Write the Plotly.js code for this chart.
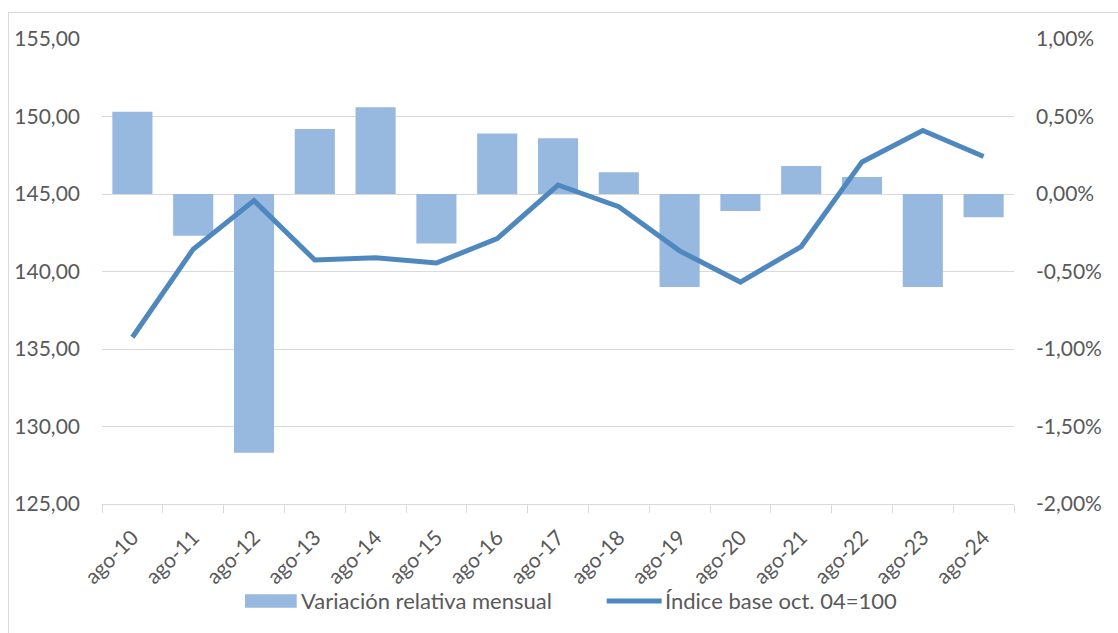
<!DOCTYPE html>
<html>
<head>
<meta charset="utf-8">
<script src="https://cdn.plot.ly/plotly-3.0.1.min.js"></script>
<style>
  html, body { margin: 0; padding: 0; width: 1118px; height: 633px; overflow: hidden; background: #fff; }
  #chart { position: absolute; left: 0; top: 0; width: 1118px; height: 633px; }
  #frame { position: absolute; left: 8px; top: 12px; width: 1200px; height: 700px; border: 1px solid #d9d9d9; pointer-events: none; }
</style>
</head>
<body>
<div id="chart"></div>
<div id="frame"></div>
<script>
const categories = ['ago-10','ago-11','ago-12','ago-13','ago-14','ago-15','ago-16','ago-17','ago-18','ago-19','ago-20','ago-21','ago-22','ago-23','ago-24'];
// Monthly relative variation, in percent
const variacion = [0.53, -0.27, -1.67, 0.42, 0.56, -0.32, 0.39, 0.36, 0.14, -0.60, -0.11, 0.18, 0.11, -0.60, -0.15];
// Index base oct. 04 = 100
const indice = [135.76, 141.44, 144.57, 140.74, 140.89, 140.55, 142.12, 145.58, 144.18, 141.33, 139.32, 141.61, 147.07, 149.10, 147.42];

const seriesNames = ['Variación relativa mensual', 'Índice base oct. 04=100'];
const leftTickVals = [125, 130, 135, 140, 145, 150, 155];
const leftTickText = ['125,00', '130,00', '135,00', '140,00', '145,00', '150,00', '155,00'];
const rightTickVals = [-2, -1.5, -1, -0.5, 0, 0.5, 1];
const rightTickText = ['-2,00%', '-1,50%', '-1,00%', '-0,50%', '0,00%', '0,50%', '1,00%'];

const FONT = 'Lato, "Open Sans", "Noto Sans", sans-serif';
const TXT = '#595959';
const BAR = '#98b9df';
const LINE = '#4f88bf';

const traces = [
  {
    type: 'bar', name: seriesNames[0],
    x: categories, y: variacion, yaxis: 'y',
    marker: { color: BAR }
  },
  {
    type: 'scatter', mode: 'lines', name: seriesNames[1],
    x: categories, y: indice, yaxis: 'y2',
    line: { color: LINE, width: 5 }
  }
];

// Legend drawn in paper coordinates below the plot
const legY = -0.2086;
const layout = {
  width: 1118, height: 633,
  margin: { l: 102, r: 104, t: 39, b: 129 },
  paper_bgcolor: '#fff', plot_bgcolor: '#fff',
  font: { family: FONT, size: 20, color: TXT },
  bargap: 0.34,
  showlegend: false,
  xaxis: {
    type: 'category', tickangle: -45,
    showline: true, linecolor: '#d9d9d9', linewidth: 1,
    ticks: 'outside', tickson: 'boundaries', ticklen: 8, tickcolor: '#d9d9d9',
    showgrid: false, zeroline: false,
    ticklabelstandoff: 12,
    tickfont: { family: FONT, size: 21, color: TXT }
  },
  yaxis: {
    side: 'right', range: [-2, 1],
    tickvals: rightTickVals, ticktext: rightTickText,
    showgrid: true, gridcolor: '#d9d9d9', gridwidth: 1,
    zeroline: false, showline: false, ticks: '',
    ticklabelstandoff: 21,
    tickfont: { family: FONT, size: 21, color: TXT }
  },
  yaxis2: {
    overlaying: 'y', side: 'left', range: [125, 155],
    tickvals: leftTickVals, ticktext: leftTickText,
    showgrid: false, zeroline: false, showline: false, ticks: '',
    ticklabelstandoff: 21,
    tickfont: { family: FONT, size: 21, color: TXT }
  },
  shapes: [
    { type: 'rect', xref: 'paper', yref: 'paper', x0: 0.1568, x1: 0.2135, y0: -0.1942, y1: -0.2230,
      fillcolor: BAR, line: { width: 0 } },
    { type: 'line', xref: 'paper', yref: 'paper', x0: 0.5534, x1: 0.6137, y0: legY, y1: legY,
      line: { color: LINE, width: 5 } }
  ],
  annotations: [
    { xref: 'paper', yref: 'paper', x: 0.2165, y: legY, xanchor: 'left', yanchor: 'middle',
      text: seriesNames[0], showarrow: false, font: { family: FONT, size: 22, color: TXT } },
    { xref: 'paper', yref: 'paper', x: 0.6155, y: legY, xanchor: 'left', yanchor: 'middle',
      text: seriesNames[1], showarrow: false, font: { family: FONT, size: 22, color: TXT } }
  ]
};

Plotly.newPlot('chart', traces, layout, { displayModeBar: false, staticPlot: true });
</script>
</body>
</html>
